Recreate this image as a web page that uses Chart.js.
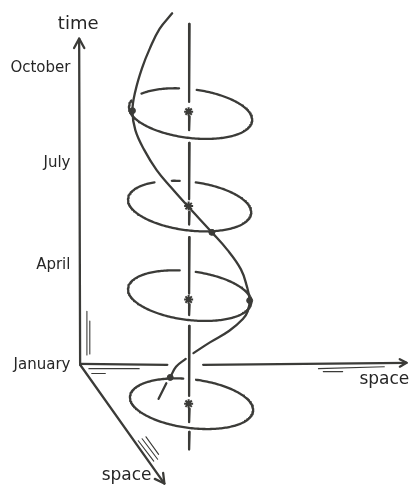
<!DOCTYPE html>
<html>
<head>
<meta charset="utf-8">
<script src="https://cdn.jsdelivr.net/npm/chart.js@4.4.0/dist/chart.umd.min.js"></script>
<style>
  html, body { margin: 0; padding: 0; background: #fff; }
  canvas { display: block; }
</style>
</head>
<body>
<canvas id="sketch" width="416" height="492"></canvas>
<script>
(function() {
    "use strict";

    // months along the time axis
    var months = ['January', 'April', 'July', 'October'];
    var monthY = [368, 266, 161, 63];

    // one loop of the orbit per season, and the mark on the centre line
    var loopX = [191, 189, 189, 190];
    var loopY = [408, 297, 205, 110];
    var markY = [408, 301, 205, 108];
    // x ranges where the back of each loop goes behind something
    var loopGaps = [[[183, 195]], [[179, 195]], [[154, 170], [179, 195]], [[129, 139], [179, 195]]];

    // the path through time (three pieces)
    var pathX = [171, 158, 148, 140, 133, 130, 133, 142, 155, 170, 187, 212, 228, 242, 248, 251, 249, 244, 230, 210, 193];
    var pathY = [7, 23, 43, 63, 87, 107, 127, 147, 168, 186, 205, 232, 250, 270, 287, 302, 313, 321, 333, 345, 356];
    var pathX2 = [185, 175, 169];
    var pathY2 = [362, 370, 381];
    var pathX3 = [165, 157];
    var pathY3 = [387, 403];

    // where the path crosses a loop
    var hitX = [130, 212, 251, 169];
    var hitY = [107, 232, 302, 381];

    // centre line, broken where loops pass in front
    var centreX = 189;
    var centreRuns = [[18, 98], [113, 127], [140, 198], [211, 224], [237, 295], [306, 317], [328, 400], [413, 427], [437, 455]];

    var timeLabel = 'time';
    var spaceLabel = 'space';

    var ink = '#3b3b38';
    var A = 64, B = 25, tilt = 7 * Math.PI / 180;

    var datasets = [];

    function line(pts, width, tension) {
        datasets.push({
            data: pts,
            showLine: true,
            borderColor: ink,
            borderWidth: width || 2.3,
            borderCapStyle: 'round',
            borderJoinStyle: 'round',
            pointRadius: 0,
            tension: tension || 0,
            fill: false,
        });
    }

    function zip(xs, ys) {
        return xs.map(function(x, i) { return { x: x, y: ys[i] }; });
    }

    function arrow(x0, y0, x1, y1, len) {
        line([{ x: x0, y: y0 }, { x: x1, y: y1 }]);
        var ang = Math.atan2(y1 - y0, x1 - x0);
        var wing = 0.5;
        line([
            { x: x1 - len * Math.cos(ang - wing), y: y1 - len * Math.sin(ang - wing) },
            { x: x1, y: y1 },
            { x: x1 - len * Math.cos(ang + wing), y: y1 - len * Math.sin(ang + wing) },
        ]);
    }

    // axes
    var ox = 76, oy = 368;
    arrow(ox, oy, 75, 33, 11);
    line([{ x: ox, y: oy - 1 }, { x: 166, y: 368 }]);
    arrow(203, 368, 413, 366, 8);
    arrow(ox, oy, 163, 490, 11);

    // little hatch strokes beside the axes
    [[83, 313, 83, 358], [86, 323, 86, 357], [85, 372, 137, 372], [88, 377, 102, 377],
     [322, 372, 390, 370], [327, 375, 347, 375],
     [136, 446, 152, 467], [140, 444, 156, 465], [144, 442, 157, 460]].forEach(function(h) {
        line([{ x: h[0], y: h[1] }, { x: h[2], y: h[3] }], 1.1);
    });

    // loops
    loopY.forEach(function(cy, k) {
        var cx = loopX[k], gaps = loopGaps[k];
        var cur = [];
        for (var i = 0; i <= 240; i++) {
            var t = i / 240 * 2 * Math.PI;
            var x = cx + A * Math.cos(t) * Math.cos(tilt) - B * Math.sin(t) * Math.sin(tilt);
            var y = cy + A * Math.cos(t) * Math.sin(tilt) + B * Math.sin(t) * Math.cos(tilt);
            var hidden = Math.sin(t) < 0 && gaps.some(function(g) { return x > g[0] && x < g[1]; });
            if (hidden) {
                if (cur.length > 1) line(cur);
                cur = [];
            } else {
                cur.push({ x: x, y: y });
            }
        }
        if (cur.length > 1) line(cur);
    });

    // centre line
    centreRuns.forEach(function(r) {
        line([{ x: centreX, y: r[0] }, { x: centreX - 0.5, y: r[1] }]);
    });

    // path through time
    line(zip(pathX, pathY), 2.3, 0.4);
    line(zip(pathX2, pathY2), 2.3, 0.4);
    line(zip(pathX3, pathY3), 2.3, 0);

    // crossings and centre marks
    datasets.push({
        data: zip(hitX, hitY),
        showLine: false,
        pointRadius: 3,
        backgroundColor: ink,
        borderColor: ink,
        borderWidth: 1,
    });
    datasets.push({
        data: markY.map(function(y) { return { x: centreX - 1, y: y }; }),
        showLine: false,
        pointStyle: 'star',
        pointRadius: 4.5,
        borderColor: ink,
        borderWidth: 2,
    });

    var labels = {
        id: 'labels',
        afterDatasetsDraw: function(chart) {
            var ctx = chart.ctx, sx = chart.scales.x, sy = chart.scales.y;
            ctx.save();
            ctx.fillStyle = '#262626';
            ctx.textBaseline = 'middle';
            ctx.font = '15px "DejaVu Sans"';
            ctx.textAlign = 'right';
            months.forEach(function(m, i) {
                ctx.fillText(m, sx.getPixelForValue(66), sy.getPixelForValue(monthY[i]));
            });
            ctx.textAlign = 'center';
            ctx.font = '18px "DejaVu Sans"';
            ctx.fillText(timeLabel, sx.getPixelForValue(74), sy.getPixelForValue(18));
            ctx.font = '17px "DejaVu Sans"';
            ctx.fillText(spaceLabel, sx.getPixelForValue(390), sy.getPixelForValue(383));
            ctx.fillText(spaceLabel, sx.getPixelForValue(124), sy.getPixelForValue(482));
            ctx.restore();
        }
    };

    new Chart(document.getElementById('sketch'), {
        type: 'scatter',
        data: { datasets: datasets },
        options: {
            responsive: false,
            animation: false,
            layout: { padding: 0 },
            scales: {
                x: { type: 'linear', min: 0, max: 416, display: false },
                y: { type: 'linear', min: 0, max: 492, reverse: true, display: false },
            },
            plugins: {
                legend: { display: false },
                tooltip: { enabled: false },
            },
        },
        plugins: [labels],
    });

})();
</script>
</body>
</html>
